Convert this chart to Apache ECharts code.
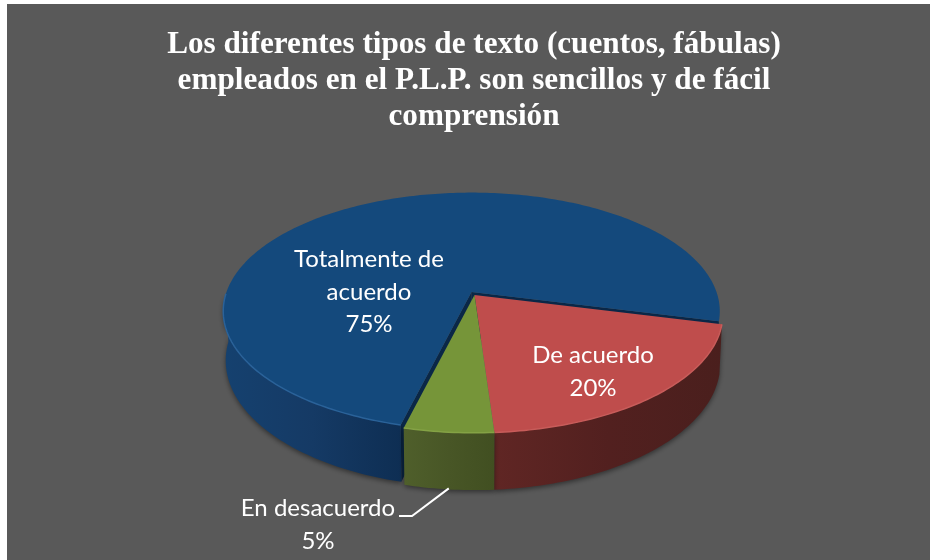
<!DOCTYPE html>
<html>
<head>
<meta charset="utf-8">
<style>
  html, body { margin: 0; padding: 0; background: #fff; }
  #main { width: 930px; height: 560px; }
</style>
<script src="https://cdn.jsdelivr.net/npm/echarts@6/dist/echarts.min.js"></script>
</head>
<body>
<div id="main"></div>
<script>
// datos
const titleText = 'Los diferentes tipos de texto (cuentos, fábulas)\nempleados en el P.L.P. son sencillos y de fácil\ncomprensión';
const categories = ['Totalmente de\nacuerdo', 'De acuerdo', 'En desacuerdo'];
const values = [75, 20, 5];

// estilo de cada porcion
const topColors = ['#14497c', '#bf4d4c', '#769539'];
const rimColors = ['#2a6299', '#c85c5a', '#84a245'];
const wallColors = [
  ['#15416f', '#153a65', '#0e2e53'],
  ['#602624', '#52201f', '#4a1f1d'],
  ['#4f5f2b', '#485626', '#414f21']
];
const offsets = [[-3, -3], [0, 0], [0, 0]];
const labelCenters = [[369, 292], [593, 372], [318, 525]];
const leaderStart = [[399, 516], [412, 516]];

// proyeccion del disco en perspectiva
const firstAngle = 194.1;
const center = [474.5, 295];
const radiusX = 245;
const radiusY = 115.5;
const perspective = 0.162;
const depth = 48;

const total = values.reduce((a, b) => a + b, 0);
const rad = (d) => (d * Math.PI) / 180;

function project(angle, off, drop) {
  const u = Math.sin(rad(angle));
  const v = -Math.cos(rad(angle));
  const f = 1 / (1 - perspective * v);
  const shrink = drop ? 0.99 : 1;
  return [
    center[0] + off[0] + radiusX * u * f * shrink,
    center[1] + off[1] + radiusY * v * f + (drop ? depth * f : 0)
  ];
}

function sliceAngles(index) {
  let sum = 0;
  for (let i = 0; i < index; i++) sum += values[i];
  const start = firstAngle + (sum / total) * 360;
  return [start, start + (values[index] / total) * 360];
}

function arcAngles(start, end) {
  const list = [];
  for (let a = start; a < end; a += 1) list.push(a);
  list.push(end);
  return list;
}

function renderSlice(params, api) {
  const i = params.dataIndex;
  const [start, end] = sliceAngles(i);
  const off = offsets[i];
  const arc = arcAngles(start, end);

  // solo la parte delantera de la pared se ve
  const front = [];
  for (const a of arc) {
    if (-Math.cos(rad(a)) > 0) front.push(a);
    else if (front.length) break;
  }

  const children = [];
  const tip = [center[0] + off[0], center[1] + off[1]];
  const tipLow = [tip[0], tip[1] + depth];

  // caras del corte
  if (off[0] || off[1]) {
    [start, end].forEach((a) => {
      children.push({
        type: 'polygon',
        shape: { points: [tip, project(a, off, false), project(a, off, true), tipLow] },
        style: { fill: '#0a2747' }
      });
    });
  }

  children.push({
    type: 'polygon',
    shape: {
      points: front.map((a) => project(a, off, false))
        .concat(front.slice().reverse().map((a) => project(a, off, true)))
    },
    style: {
      fill: new echarts.graphic.LinearGradient(0, 0, 1, 0, wallColors[i].map((c, k) => ({
        offset: k / (wallColors[i].length - 1), color: c
      }))),
      shadowBlur: 5,
      shadowColor: 'rgba(0,0,0,0.45)',
      shadowOffsetY: 2
    }
  });

  children.push({
    type: 'polygon',
    shape: { points: [tip].concat(arc.map((a) => project(a, off, false))) },
    style: { fill: topColors[i] }
  });

  children.push({
    type: 'polyline',
    shape: { points: front.map((a) => project(a, off, false)) },
    style: { fill: null, stroke: rimColors[i], lineWidth: 1.5 }
  });

  // linea guia de la porcion pequeña
  if (values[i] === Math.min(...values)) {
    const mid = project((start + end) / 2, off, true);
    children.push({
      type: 'polyline',
      shape: { points: leaderStart.concat([[mid[0], mid[1] - 1]]) },
      style: { fill: null, stroke: '#fff', lineWidth: 2 },
      z2: 20
    });
  }

  children.push({
    type: 'text',
    z2: 30,
    style: {
      text: categories[i] + '\n' + api.value(0) + '%',
      x: labelCenters[i][0],
      y: labelCenters[i][1],
      fill: '#fff',
      fontFamily: 'Lato',
      fontSize: 24,
      lineHeight: 32.5,
      align: 'center',
      verticalAlign: 'middle'
    }
  });

  return { type: 'group', children };
}

const chart = echarts.init(document.getElementById('main'), null, { renderer: 'canvas' });
chart.setOption({
  animation: false,
  backgroundColor: '#fff',
  title: {
    text: titleText,
    left: 469,
    top: 22,
    textAlign: 'center',
    textStyle: {
      color: '#fff',
      fontFamily: 'Liberation Serif',
      fontWeight: 'bold',
      fontSize: 31.2,
      lineHeight: 36
    }
  },
  graphic: [{
    type: 'rect',
    z: -1,
    shape: { x: 7, y: 4, width: 923, height: 556 },
    style: { fill: '#595959' }
  }],
  series: [{
    type: 'custom',
    coordinateSystem: 'none',
    silent: true,
    data: values.map((v) => [v]),
    renderItem: renderSlice
  }]
});
</script>
</body>
</html>
